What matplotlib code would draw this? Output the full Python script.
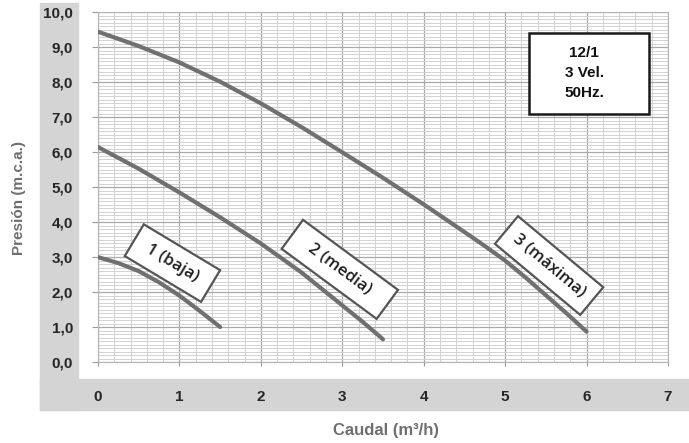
import matplotlib
matplotlib.use("Agg")
import matplotlib.pyplot as plt
import matplotlib.transforms as mtransforms
from matplotlib.patches import Rectangle
import numpy as np

# curvas de la bomba 12/1, 3 velocidades
q_baja = [0.0, 0.25, 0.5, 0.75, 1.0, 1.25, 1.5]
h_baja = [3.0, 2.83, 2.6, 2.28, 1.9, 1.46, 1.0]

q_media = [0.0, 0.5, 1.0, 1.5, 2.0, 2.5, 3.0, 3.25, 3.5]
h_media = [6.15, 5.53, 4.85, 4.14, 3.39, 2.56, 1.62, 1.15, 0.65]

q_max = [0.0, 0.5, 1.0, 1.5, 2.0, 2.5, 3.0, 3.5, 4.0, 4.5, 4.75, 5.0, 5.25, 5.5, 5.75, 6.0]
h_max = [9.45, 9.04, 8.57, 8.02, 7.4, 6.72, 6.0, 5.27, 4.51, 3.72, 3.32, 2.9, 2.42, 1.91, 1.4, 0.87]

curve_labels = ["1 (baja)", "2 (media)", "3 (máxima)"]

x_ticks = [0, 1, 2, 3, 4, 5, 6, 7]
x_labels = ["0", "1", "2", "3", "4", "5", "6", "7"]
y_ticks = [0, 1, 2, 3, 4, 5, 6, 7, 8, 9, 10]
y_labels = ["0,0", "1,0", "2,0", "3,0", "4,0", "5,0", "6,0", "7,0", "8,0", "9,0", "10,0"]

info_text = "12/1\n3 Vel.\n50Hz."

W, H = 689, 443
fig = plt.figure(figsize=(W / 100, H / 100), dpi=100)
fig.patch.set_facecolor("white")

# banda gris en L detras de los ejes
band = "#d4d4d4"
fig.patches.append(Rectangle((40 / W, (H - 410) / H), 38 / W, 407 / H,
                             transform=fig.transFigure, color=band, zorder=-1))
fig.patches.append(Rectangle((40 / W, (H - 410) / H), (W - 40) / W, 31 / H,
                             transform=fig.transFigure, color=band, zorder=-1))

ax = fig.add_axes([98 / W, (H - 362) / H, 570 / W, 349.5 / H])
ax.set_xlim(0, 7)
ax.set_ylim(0, 10)

ax.set_xticks(x_ticks)
ax.set_xticklabels(x_labels)
ax.set_yticks(y_ticks)
ax.set_yticklabels(y_labels)
ax.set_xticks(np.arange(0, 7.01, 0.2), minor=True)
ax.set_yticks(np.arange(0, 10.01, 0.1), minor=True)

ax.grid(which="major", color="#a9a9a9", lw=0.9)
ax.grid(which="minor", color="#d2d2d2", lw=0.7)
ax.set_axisbelow(True)
for s in ax.spines.values():
    s.set_color("#b5b5b5")
    s.set_linewidth(0.8)

ax.tick_params(which="minor", length=0)
ax.tick_params(axis="y", which="major", length=4, color="#999999", pad=14)
ax.tick_params(axis="x", which="major", length=3, color="#999999", pad=17)
for lab in ax.get_xticklabels() + ax.get_yticklabels():
    lab.set_fontsize(11)
    lab.set_fontweight("bold")
    lab.set_color("#262626")
    lab.set_family("Liberation Sans")

# curvas
for q, h in [(q_baja, h_baja), (q_media, h_media), (q_max, h_max)]:
    ax.plot(q, h, color="#707070", lw=3.0, solid_capstyle="round",
            solid_joinstyle="round", zorder=3)

# etiquetas giradas con recuadro
centers = [(0.914, 2.83), (2.97, 2.65), (5.54, 2.76)]
angles = [-31, -36.4, -39.8]
sizes = [(89, 37), (118, 36), (111, 36)]  # px
for txt, (cx, cy), ang, (bw, bh) in zip(curve_labels, centers, angles, sizes):
    tr = (mtransforms.Affine2D().rotate_deg(ang)
          + mtransforms.ScaledTranslation(cx, cy, ax.transData))
    ax.add_patch(Rectangle((-bw / 2, -bh / 2), bw, bh, transform=tr,
                           facecolor="white", edgecolor="#555555", lw=1.6, zorder=4))
    ax.text(cx, cy, txt, rotation=ang, rotation_mode="anchor", ha="center",
            va="center", fontsize=12, family="Open Sans", fontweight="semibold",
            color="#1e1e1e", zorder=5)

# recuadro de informacion
ax.add_patch(Rectangle((5.29, 7.11), 1.48, 2.31, facecolor="white",
                       edgecolor="#1a1a1a", lw=1.8, zorder=4))
ax.text(5.97, 8.27, info_text, ha="center", va="center", fontsize=11,
        fontweight="bold", family="Liberation Sans", linespacing=1.55,
        color="#111111", zorder=5)

fig.text(19 / W, (H - 198) / H, "Presión (m.c.a.)", rotation=90, ha="center",
         va="center", fontsize=11, fontweight="bold", color="#6e6e6e",
         family="Liberation Sans")
fig.text(386 / W, (H - 430) / H, "Caudal (m³/h)", ha="center", va="center",
         fontsize=12, fontweight="bold", color="#6e6e6e", family="Liberation Sans")

fig.savefig("out.png", dpi=100)
